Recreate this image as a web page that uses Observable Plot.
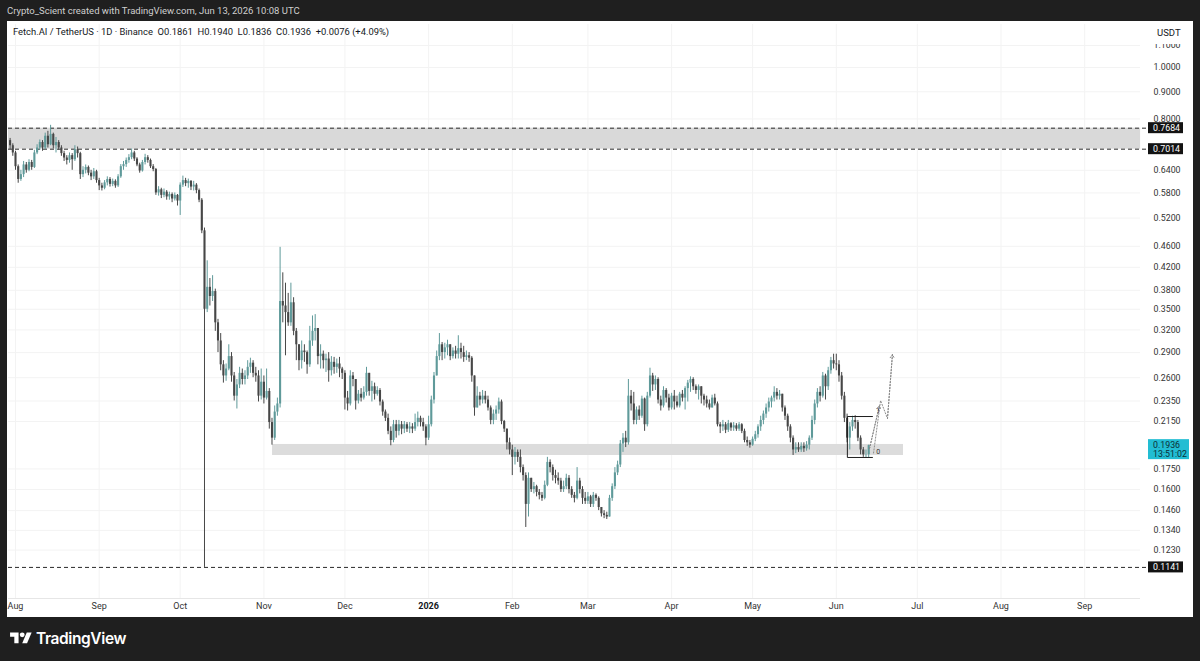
<!DOCTYPE html>
<html>
<head>
<meta charset="utf-8">
<script src="https://cdn.jsdelivr.net/npm/d3@7"></script>
<script src="https://cdn.jsdelivr.net/npm/@observablehq/plot@0.6"></script>
<style>
  html, body { margin: 0; padding: 0; background: #1f1f1f; width: 1200px; height: 661px; overflow: hidden;
    font-family: Roboto, "Liberation Sans", sans-serif; }
  #credit { position: absolute; left: 7px; top: 5px; color: #cfcfcf; font-size: 9.5px; white-space: nowrap; }
  #panel { position: absolute; left: 7px; top: 21px; width: 1186px; height: 596px; background: #fff; overflow: hidden; }
  #panel svg { position: absolute; left: 0; top: 0; }
  #legend { position: absolute; left: 6px; top: 5px; font-size: 9.4px; color: #131722; white-space: nowrap; z-index: 2; }
  #usdt { position: absolute; left: 1141px; top: 1px; width: 45px; height: 22px; background: #fff; font-size: 9.5px;
    color: #131722; z-index: 2; line-height: 22px; text-align: left; padding-left: 9px; box-sizing: border-box; }
  #brand { position: absolute; left: 10px; top: 629px; display: flex; align-items: center; color: #fff; }
  #brand span { font-family: Inter, Roboto, sans-serif; font-weight: 600; font-size: 15.5px; letter-spacing: -0.4px; margin-left: 4px; }
</style>
</head>
<body>
<div id="credit">Crypto_Scient created with TradingView.com, Jun 13, 2026 10:08 UTC</div>
<div id="panel">
  <div id="legend">Fetch.AI / TetherUS · 1D · Binance&nbsp; O0.1861&nbsp; H0.1940&nbsp; L0.1836&nbsp; C0.1936&nbsp; +0.0076 (+4.09%)</div>
  <div id="usdt">USDT</div>
</div>
<div id="brand">
  <svg width="22" height="17" viewBox="0 0 36 28"><path d="M14 22H7V11H0V4h14v18z" fill="#fff"/><circle cx="20" cy="8" r="4" fill="#fff"/><path d="M28 22h-8l7.5-18h8L28 22z" fill="#fff"/></svg>
  <span>TradingView</span>
</div>
<script>
// ---------- data (daily candles FET/USDT, first candle 2025-07-30) ----------
const firstDate = "2025-07-30";
const firstOpen = 0.728;
const closes = [
  0.712,0.690,0.650,0.615,0.628,0.655,0.640,0.662,0.648,0.690,
  0.705,0.722,0.705,0.742,0.715,0.748,0.712,0.722,0.705,0.688,
  0.675,0.668,0.682,0.670,0.700,0.688,0.628,0.640,0.648,0.632,
  0.622,0.636,0.612,
  0.598,0.592,0.606,0.615,0.602,0.610,0.598,0.622,0.650,0.656,
  0.668,0.676,0.690,0.672,0.655,0.638,0.662,0.676,0.668,0.650,
  0.642,0.580,0.588,0.574,0.582,0.570,0.576,0.565,0.574,0.560,
  0.600,0.612,0.604,0.610,0.595,0.600,0.586,0.562,0.492,0.350,
  0.385,0.370,0.378,0.330,0.305,0.275,0.262,0.270,0.285,0.262,
  0.240,0.252,0.265,0.258,0.262,0.272,0.277,0.265,0.262,0.240,
  0.255,0.238,0.245,0.214,0.200,0.224,0.232,0.362,0.355,0.345,
  0.330,0.360,0.318,0.300,0.280,0.292,0.290,0.275,0.305,0.318,
  0.322,0.285,0.288,0.280,0.282,0.268,0.278,0.272,0.276,0.270,
  0.265,0.238,0.232,0.262,0.258,0.235,0.242,0.238,0.244,0.265,
  0.245,0.250,0.242,0.246,0.234,0.224,0.218,0.206,0.198,0.212,
  0.206,0.212,0.208,0.212,0.208,0.210,0.208,0.214,0.218,0.214,
  0.210,0.200,0.212,0.236,0.262,0.285,0.300,0.290,0.296,0.300,
  0.285,0.292,0.288,0.295,0.290,0.284,0.286,0.283,0.262,0.228,
  0.240,0.236,0.240,0.236,0.228,0.216,0.222,0.226,0.234,0.215,
  0.208,0.196,0.190,0.184,0.188,0.184,0.176,0.170,0.150,0.168,
  0.160,0.162,0.158,0.156,0.154,0.163,0.180,0.176,0.170,0.168,
  0.166,0.160,0.162,0.168,0.160,0.156,0.154,0.166,0.160,0.154,
  0.152,0.155,0.150,0.156,0.154,0.148,0.144,0.143,0.142,0.154,
  0.162,0.172,0.178,0.195,0.200,0.196,0.240,0.232,0.216,0.226,
  0.220,0.237,0.212,0.240,0.262,0.252,0.258,0.236,0.230,0.246,
  0.238,0.228,0.240,0.234,0.230,0.242,0.238,0.248,0.254,0.258,
  0.250,0.246,0.250,0.240,0.236,0.232,0.228,0.238,0.232,0.212,
  0.210,0.212,0.207,0.213,0.209,0.211,0.208,0.212,0.206,0.198,
  0.196,0.194,0.199,0.203,0.210,0.216,0.222,0.228,0.234,0.238,
  0.244,0.240,0.242,0.228,0.220,0.210,0.200,0.190,0.192,0.190,
  0.193,0.191,0.194,0.200,0.216,0.232,0.244,0.240,0.262,0.250,
  0.268,0.280,0.276,0.275,0.262,0.240,0.218,0.200,0.210,0.216,
  0.214,0.200,0.190,0.186,0.1861,0.1936
];
const highs = [
  0.735,0.718,0.695,0.655,0.640,0.665,0.662,0.670,0.668,0.698,
  0.715,0.730,0.728,0.752,0.758,0.778,0.752,0.738,0.728,0.712,
  0.695,0.682,0.690,0.688,0.712,0.708,0.692,0.650,0.655,0.652,
  0.640,0.645,0.640,
  0.618,0.605,0.612,0.622,0.620,0.616,0.614,0.628,0.656,0.665,
  0.675,0.685,0.702,0.695,0.676,0.660,0.668,0.686,0.682,0.672,
  0.656,0.645,0.596,0.592,0.590,0.586,0.582,0.580,0.580,0.576,
  0.606,0.624,0.618,0.616,0.612,0.610,0.604,0.590,0.566,0.498,
  0.432,0.400,0.405,0.382,0.335,0.315,0.280,0.276,0.300,0.290,
  0.266,0.258,0.272,0.270,0.268,0.280,0.283,0.280,0.272,0.268,
  0.270,0.262,0.270,0.248,0.218,0.230,0.238,0.458,0.410,0.392,
  0.375,0.392,0.368,0.322,0.300,0.305,0.300,0.292,0.325,0.340,
  0.342,0.320,0.300,0.292,0.288,0.290,0.285,0.284,0.282,0.284,
  0.272,0.268,0.245,0.268,0.266,0.258,0.246,0.248,0.250,0.272,
  0.265,0.256,0.254,0.250,0.248,0.236,0.226,0.222,0.210,0.216,
  0.216,0.216,0.215,0.215,0.214,0.214,0.213,0.222,0.224,0.220,
  0.218,0.212,0.220,0.240,0.266,0.292,0.315,0.303,0.302,0.306,
  0.300,0.296,0.298,0.312,0.302,0.298,0.292,0.290,0.285,0.262,
  0.250,0.244,0.246,0.245,0.240,0.230,0.226,0.230,0.238,0.236,
  0.216,0.208,0.200,0.194,0.192,0.190,0.190,0.178,0.172,0.172,
  0.168,0.165,0.163,0.160,0.158,0.166,0.184,0.182,0.178,0.174,
  0.172,0.168,0.166,0.171,0.170,0.162,0.158,0.176,0.168,0.162,
  0.158,0.158,0.156,0.158,0.157,0.155,0.148,0.146,0.145,0.156,
  0.164,0.176,0.181,0.198,0.204,0.206,0.258,0.246,0.244,0.229,
  0.230,0.240,0.238,0.244,0.271,0.265,0.262,0.260,0.240,0.250,
  0.248,0.242,0.243,0.246,0.240,0.244,0.246,0.250,0.257,0.261,
  0.260,0.252,0.252,0.250,0.242,0.240,0.236,0.241,0.242,0.234,
  0.214,0.216,0.214,0.216,0.214,0.214,0.213,0.214,0.213,0.208,
  0.201,0.198,0.201,0.206,0.212,0.220,0.225,0.232,0.238,0.240,
  0.250,0.248,0.246,0.242,0.230,0.222,0.212,0.202,0.196,0.196,
  0.196,0.196,0.197,0.202,0.220,0.236,0.248,0.250,0.266,0.264,
  0.272,0.284,0.288,0.288,0.280,0.266,0.244,0.222,0.214,0.220,
  0.2205,0.216,0.202,0.192,0.190,0.1940
];
const lows = [
  0.700,0.680,0.640,0.605,0.610,0.620,0.632,0.636,0.640,0.645,
  0.685,0.698,0.695,0.700,0.705,0.712,0.702,0.690,0.698,0.680,
  0.665,0.655,0.660,0.640,0.665,0.675,0.615,0.620,0.630,0.625,
  0.612,0.615,0.605,
  0.586,0.585,0.588,0.598,0.595,0.596,0.592,0.594,0.618,0.640,
  0.648,0.660,0.670,0.665,0.650,0.632,0.635,0.655,0.660,0.645,
  0.636,0.574,0.572,0.566,0.568,0.562,0.562,0.556,0.560,0.548,
  0.526,0.594,0.596,0.592,0.586,0.585,0.578,0.556,0.486,0.1141,
  0.345,0.355,0.362,0.318,0.290,0.268,0.254,0.256,0.268,0.255,
  0.235,0.227,0.248,0.252,0.252,0.258,0.265,0.260,0.255,0.234,
  0.236,0.232,0.236,0.208,0.194,0.198,0.220,0.228,0.330,0.286,
  0.325,0.325,0.312,0.280,0.268,0.270,0.278,0.264,0.272,0.298,
  0.305,0.275,0.270,0.270,0.266,0.255,0.262,0.264,0.265,0.260,
  0.258,0.226,0.225,0.230,0.250,0.226,0.232,0.234,0.236,0.240,
  0.240,0.234,0.236,0.240,0.230,0.220,0.215,0.203,0.1935,0.196,
  0.200,0.202,0.203,0.204,0.205,0.204,0.204,0.206,0.210,0.210,
  0.206,0.1935,0.198,0.210,0.232,0.262,0.280,0.280,0.282,0.286,
  0.280,0.282,0.282,0.282,0.282,0.278,0.280,0.278,0.255,0.220,
  0.228,0.230,0.232,0.232,0.225,0.212,0.212,0.216,0.222,0.212,
  0.205,0.190,0.186,0.170,0.178,0.180,0.172,0.166,0.1357,0.142,
  0.158,0.157,0.155,0.153,0.152,0.153,0.162,0.172,0.166,0.164,
  0.163,0.158,0.158,0.160,0.157,0.154,0.151,0.153,0.157,0.150,
  0.150,0.150,0.148,0.148,0.152,0.146,0.142,0.141,0.1405,0.142,
  0.152,0.160,0.170,0.176,0.188,0.192,0.194,0.225,0.212,0.212,
  0.216,0.218,0.206,0.210,0.238,0.245,0.246,0.232,0.225,0.228,
  0.233,0.225,0.226,0.226,0.228,0.228,0.234,0.226,0.234,0.244,
  0.246,0.242,0.236,0.232,0.230,0.228,0.226,0.228,0.230,0.210,
  0.204,0.206,0.204,0.205,0.206,0.206,0.206,0.206,0.204,0.196,
  0.193,0.1915,0.193,0.197,0.200,0.206,0.212,0.218,0.224,0.228,
  0.234,0.236,0.236,0.224,0.216,0.206,0.196,0.1855,0.187,0.188,
  0.188,0.188,0.189,0.190,0.198,0.212,0.228,0.234,0.238,0.236,
  0.246,0.264,0.270,0.268,0.255,0.236,0.214,0.196,0.190,0.206,
  0.208,0.197,0.186,0.184,0.1835,0.1836
];

// axis ticks
const priceTicks = [1.1, 1.0, 0.9, 0.8, 0.64, 0.58, 0.52, 0.46, 0.42, 0.38, 0.35, 0.32, 0.29, 0.26, 0.235, 0.215, 0.175, 0.16, 0.146, 0.134, 0.123];
const monthDates = ["2025-08-01","2025-09-01","2025-10-01","2025-11-01","2025-12-01","2026-01-01","2026-02-01","2026-03-01","2026-04-01","2026-05-01","2026-06-01","2026-07-01","2026-08-01","2026-09-01"];
const monthLabels = ["Aug","Sep","Oct","Nov","Dec","2026","Feb","Mar","Apr","May","Jun","Jul","Aug","Sep"];

// drawings (day offsets from 2025-08-01)
const levels = [0.7684, 0.7014, 0.1141];
const topZone = {from: -2.6, to: 416.7, lo: 0.7014, hi: 0.7684};
const supportZone = {from: 95.2, to: 328.9, lo: 0.1855, hi: 0.1946};
const rangeBox = {from: 308.1, to: 317.4, top: 0.2197, bottom: 0.1839};
const projA = [{day: 316.3, price: 0.1912}, {day: 320.0, price: 0.2305}];
const projB = [{day: 317.8, price: 0.1875}, {day: 320.4, price: 0.2355}, {day: 322.96, price: 0.2178}, {day: 324.8, price: 0.2877}];
const lastPrice = {value: 0.1936, countdown: "13:51:02"};

// ---------- build ----------
const DAY = 864e5;
const AUG1 = Date.UTC(2025, 7, 1);
const dayDate = d => new Date(AUG1 + d * DAY);
const t0 = Date.parse(firstDate + "T00:00:00Z");
const candles = closes.map((c, i) => {
  const o = i === 0 ? firstOpen : closes[i - 1];
  return {date: new Date(t0 + i * DAY), open: o, close: c,
          high: Math.max(highs[i], o, c), low: Math.min(lows[i], o, c)};
});
const UP = "#5f9a9a", DOWN = "#474747";
const col = d => d.close >= d.open ? UP : DOWN;
const months = monthDates.map((m, i) => ({date: new Date(m + "T00:00:00Z"), label: monthLabels[i]}));
const xEnd = dayDate(419.3);

const chart = Plot.plot({
  width: 1186, height: 596,
  marginLeft: 1, marginRight: 53, marginTop: 3, marginBottom: 19,
  style: {background: "transparent", fontFamily: "Roboto, 'Liberation Sans', sans-serif", fontSize: "9px", overflow: "visible"},
  x: {type: "utc", domain: [dayDate(-2.593), dayDate(416.67)], axis: null},
  y: {type: "log", domain: [0.09969, 1.2053], axis: null},
  marks: [
    Plot.ruleX(months, {x: "date", stroke: "#f3f3f3"}),
    Plot.ruleY(priceTicks, {y: d => d, stroke: "#f3f3f3"}),
    Plot.rect([topZone], {x1: d => dayDate(d.from), x2: d => dayDate(d.to), y1: "lo", y2: "hi", fill: "#d9d9d9"}),
    Plot.rect([supportZone], {x1: d => dayDate(d.from), x2: d => dayDate(d.to), y1: "lo", y2: "hi", fill: "#dcdcdc"}),
    Plot.ruleY(levels, {y: d => d, x1: dayDate(-2.593), x2: xEnd, stroke: "#2a2a2a", strokeDasharray: "4,3", strokeWidth: 1}),
    Plot.ruleX(candles, {x: "date", y1: "low", y2: "high", stroke: col, strokeWidth: 1}),
    Plot.ruleX(candles, {x: "date", y1: "open", y2: "close", stroke: col, strokeWidth: 2.1}),
    Plot.line([
      {d: rangeBox.to, p: rangeBox.top}, {d: rangeBox.from, p: rangeBox.top},
      {d: rangeBox.from, p: rangeBox.bottom}, {d: rangeBox.to, p: rangeBox.bottom}
    ], {x: r => dayDate(r.d), y: "p", stroke: "#1e1e1e", strokeWidth: 1, curve: "linear"}),
    Plot.line(projA, {x: r => dayDate(r.day), y: "price", stroke: "#8c8c8c", strokeDasharray: "1.2,1.8", strokeWidth: 1}),
    Plot.line(projB, {x: r => dayDate(r.day), y: "price", stroke: "#8c8c8c", strokeDasharray: "1.2,1.8", strokeWidth: 1}),
    Plot.arrow([projA], {x1: r => dayDate(r[0].day), y1: r => r[0].price, x2: r => dayDate(r[1].day), y2: r => r[1].price,
      stroke: "#8c8c8c", strokeDasharray: "1.2,1.8", headLength: 6, strokeWidth: 1}),
    Plot.arrow([projB], {x1: r => dayDate(r[2].day), y1: r => r[2].price, x2: r => dayDate(r[3].day), y2: r => r[3].price,
      stroke: "#8c8c8c", strokeDasharray: "1.2,1.8", headLength: 6, strokeWidth: 1}),
    Plot.text([{t: "1", p: rangeBox.top}, {t: "0", p: rangeBox.bottom}], {x: dayDate(319.5), y: "p", text: "t", dy: -6, fontSize: 7, fill: "#333"}),
    Plot.text(priceTicks, {y: d => d, text: d => d3.format(".4f")(d), frameAnchor: "right", dx: 13, textAnchor: "start", fill: "#333", fontSize: 8.8}),
    Plot.text(months.filter(m => m.label !== "2026"), {x: "date", text: "label", frameAnchor: "bottom", dy: 10, fill: "#333", fontSize: 9}),
    Plot.text(months.filter(m => m.label === "2026"), {x: "date", text: "label", frameAnchor: "bottom", dy: 10, fill: "#131722", fontSize: 9, fontWeight: "bold"}),
    Plot.ruleY([0.09969], {stroke: "#e6e6e6"})
  ]
});

const y = chart.scale("y");
const svg = d3.select(chart);
levels.forEach(v => {
  const yy = y.apply(v);
  svg.append("rect").attr("x", 1141).attr("y", yy - 5.5).attr("width", 35).attr("height", 11).attr("fill", "#131313");
  svg.append("text").attr("x", 1146).attr("y", yy).attr("dy", "0.35em").attr("fill", "#fff").attr("text-anchor", "start")
    .attr("font-size", 8.8).attr("font-family", "Roboto, sans-serif").text(d3.format(".4f")(v));
});
const ly = y.apply(lastPrice.value);
svg.append("rect").attr("x", 1141).attr("y", ly - 6).attr("width", 41).attr("height", 20).attr("fill", "#22bdd3");
svg.append("text").attr("x", 1146).attr("y", ly).attr("dy", "0.35em").attr("fill", "#0c2f36").attr("text-anchor", "start")
  .attr("font-size", 8.8).attr("font-family", "Roboto, sans-serif").text(d3.format(".4f")(lastPrice.value));
svg.append("text").attr("x", 1146).attr("y", ly + 9).attr("dy", "0.35em").attr("fill", "#0c2f36").attr("text-anchor", "start")
  .attr("font-size", 8.8).attr("font-family", "Roboto, sans-serif").text(lastPrice.countdown);

document.getElementById("panel").appendChild(chart);
</script>
</body>
</html>
